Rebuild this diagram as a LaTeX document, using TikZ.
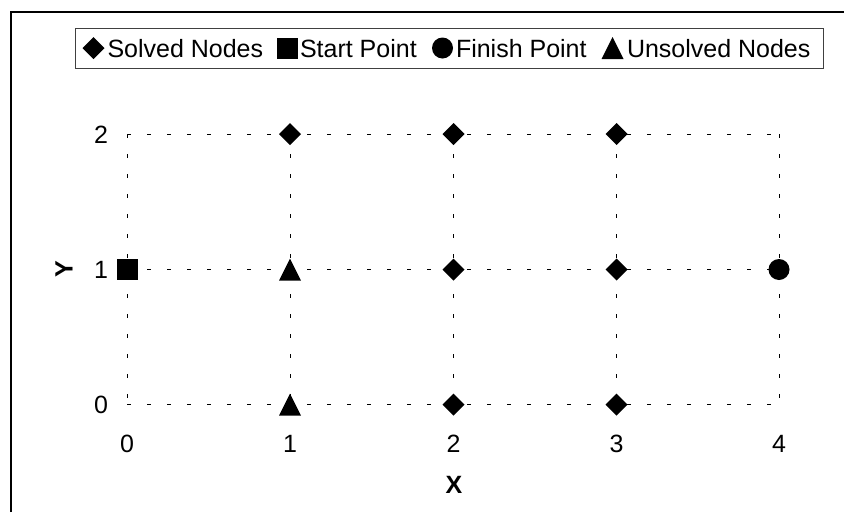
\documentclass[tikz,border=0pt]{standalone}
\usepackage{fontspec}
\setmainfont{Liberation Sans}
\usetikzlibrary{shapes.geometric}
\begin{document}
\begin{tikzpicture}[x=1pt,y=-1pt,
  mk/.style={fill=black,inner sep=0pt,outer sep=0pt},
  solved/.style={mk,diamond,minimum width=22pt,minimum height=22pt},
  startpt/.style={mk,rectangle,minimum size=21pt},
  finishpt/.style={mk,circle,minimum size=21pt},
  unsolved/.style={mk,isosceles triangle,isosceles triangle stretches,shape border rotate=90,minimum width=22pt,minimum height=22pt,anchor=apex},
  gridline/.style={line width=1pt,dash pattern=on 4pt off 16pt},
  lbl/.style={inner sep=0pt,outer sep=0pt,font=\fontsize{25}{30}\selectfont},
  ttl/.style={lbl,font=\fontsize{25}{30}\selectfont\bfseries},
]
\useasboundingbox (0,0) rectangle (844,512);
% outer frame
\coordinate (fbl) at (11,512);
\coordinate (ftl) at (11,12);
\coordinate (ftr) at (844,12);
\draw[line width=2.5pt] (fbl) -- (ftl) -- (ftr);
% legend
\node[draw=black!75,line width=1pt,minimum width=748pt,minimum height=40pt,inner sep=0pt,anchor=north west] (legend) at (75,28) {};
\node[solved] (lsolved) at (93.5,48) {};
\node[lbl,anchor=base west] (tsolved) at (107.5,57) {Solved Nodes};
\node[startpt] (lstart) at (287.5,48) {};
\node[lbl,anchor=base west] (tstart) at (300,57) {Start Point};
\node[finishpt] (lfinish) at (442.5,48) {};
\node[lbl,anchor=base west] (tfinish) at (456,57) {Finish Point};
\node[unsolved] (lunsolved) at (612.5,37) {};
\node[lbl,anchor=base west] (tunsolved) at (627,57) {Unsolved Nodes};
% grid coordinates
\foreach \i/\x in {0/127,1/290,2/453.5,3/616.5,4/779}{
  \foreach \j/\y in {0/404.5,1/269.5,2/134}{
    \coordinate (g\i\j) at (\x,\y);
  }
}
% grid lines
\foreach \j in {0,1,2}{\draw[gridline] (g0\j) -- (g4\j);}
\foreach \i in {0,1,2,3,4}{\draw[gridline] (g\i2) -- (g\i0);}
% tick labels
\foreach \i/\x in {0/127,1/290,2/453.5,3/616.5,4/779}{
  \node[lbl,anchor=base] (xl\i) at (\x,452.5) {\i};
}
\foreach \j/\y in {0/404.5,1/269.5,2/134}{
  \node[lbl,anchor=base east] (yl\j) at (108,\y+9) {\j};
}
% axis titles
\node[ttl] (xtitle) at (454,485) {X};
\node[ttl,rotate=90] (ytitle) at (64,269.5) {Y};
% markers
\node[solved] (m12) at (g12) {};
\node[solved] (m22) at (g22) {};
\node[solved] (m32) at (g32) {};
\node[solved] (m21) at (g21) {};
\node[solved] (m31) at (g31) {};
\node[solved] (m20) at (g20) {};
\node[solved] (m30) at (g30) {};
\node[startpt] (m01) at (g01) {};
\node[finishpt] (m41) at (g41) {};
\node[unsolved] (m11) at ([yshift=11pt]g11) {};
\node[unsolved] (m10) at ([yshift=11pt]g10) {};
\end{tikzpicture}
\end{document}
